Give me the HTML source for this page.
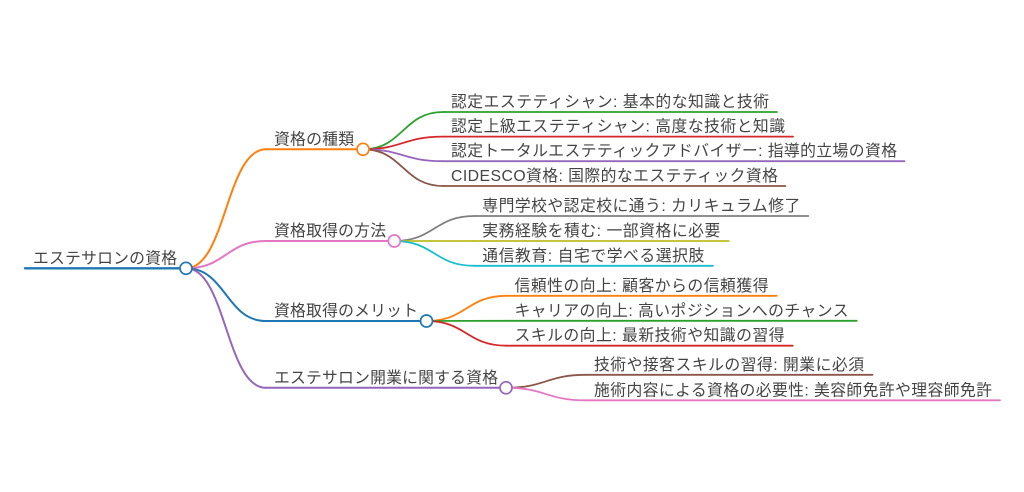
<!DOCTYPE html>
<html>
<head>
<meta charset="utf-8">
<style>
  html, body { margin: 0; padding: 0; background: #ffffff; }
  body { width: 1024px; height: 492px; overflow: hidden; }
  svg { display: block; }
  text { font-family: "Liberation Sans", "Noto Sans CJK JP", sans-serif; font-size: 15.8px; fill: #444; }
</style>
</head>
<body>
<svg width="1024" height="492" viewBox="0 0 1024 492" xmlns="http://www.w3.org/2000/svg">
  <g fill="none" stroke-linecap="round">
    <!-- root -> branches links -->
    <path d="M186,268.3 C226,268.3 226,149.3 266,149.3" stroke="#ff7f0e" stroke-width="2"/>
    <path d="M186,268.3 C226,268.3 226,241 266,241" stroke="#e377c2" stroke-width="2"/>
    <path d="M186,268.3 C226,268.3 226,321 266,321" stroke="#1f77b4" stroke-width="2"/>
    <path d="M186,268.3 C226,268.3 226,387.8 266,387.8" stroke="#9467bd" stroke-width="2"/>

    <!-- branch 1 -> leaves -->
    <path d="M363,149.3 C403,149.3 403,112 443,112" stroke="#2ca02c" stroke-width="1.8"/>
    <path d="M363,149.3 C403,149.3 403,136.6 443,136.6" stroke="#d62728" stroke-width="1.8"/>
    <path d="M363,149.3 C403,149.3 403,161.2 443,161.2" stroke="#9467bd" stroke-width="1.8"/>
    <path d="M363,149.3 C403,149.3 403,186 443,186" stroke="#8c564b" stroke-width="1.8"/>

    <!-- branch 2 -> leaves -->
    <path d="M394.3,241 C434.3,241 434.3,216 474.3,216" stroke="#7f7f7f" stroke-width="1.8"/>
    <path d="M394.3,241 C434.3,241 434.3,241 474.3,241" stroke="#bcbd22" stroke-width="1.8"/>
    <path d="M394.3,241 C434.3,241 434.3,265.8 474.3,265.8" stroke="#17becf" stroke-width="1.8"/>

    <!-- branch 3 -> leaves -->
    <path d="M426.5,321 C466.5,321 466.5,295.8 506.5,295.8" stroke="#ff7f0e" stroke-width="1.8"/>
    <path d="M426.5,321 C466.5,321 466.5,320.8 506.5,320.8" stroke="#2ca02c" stroke-width="1.8"/>
    <path d="M426.5,321 C466.5,321 466.5,345.7 506.5,345.7" stroke="#d62728" stroke-width="1.8"/>

    <!-- branch 4 -> leaves -->
    <path d="M506,387.8 C546,387.8 546,374.8 586,374.8" stroke="#8c564b" stroke-width="1.8"/>
    <path d="M506,387.8 C546,387.8 546,400.3 586,400.3" stroke="#e377c2" stroke-width="1.8"/>

    <!-- node underlines -->
    <line x1="25" y1="268.3" x2="186" y2="268.3" stroke="#1f77b4" stroke-width="2.3"/>

    <line x1="266" y1="149.3" x2="363" y2="149.3" stroke="#ff7f0e" stroke-width="2"/>
    <line x1="266" y1="241" x2="394.3" y2="241" stroke="#e377c2" stroke-width="2"/>
    <line x1="266" y1="321" x2="426.5" y2="321" stroke="#1f77b4" stroke-width="2"/>
    <line x1="266" y1="387.8" x2="506" y2="387.8" stroke="#9467bd" stroke-width="2"/>

    <line x1="443" y1="112" x2="777" y2="112" stroke="#2ca02c" stroke-width="1.8"/>
    <line x1="443" y1="136.6" x2="793" y2="136.6" stroke="#d62728" stroke-width="1.8"/>
    <line x1="443" y1="161.2" x2="904.5" y2="161.2" stroke="#9467bd" stroke-width="1.8"/>
    <line x1="443" y1="186" x2="785.5" y2="186" stroke="#8c564b" stroke-width="1.8"/>

    <line x1="474.3" y1="216" x2="808.3" y2="216" stroke="#7f7f7f" stroke-width="1.8"/>
    <line x1="474.3" y1="241" x2="728.8" y2="241" stroke="#bcbd22" stroke-width="1.8"/>
    <line x1="474.3" y1="265.8" x2="713" y2="265.8" stroke="#17becf" stroke-width="1.8"/>

    <line x1="506.5" y1="295.8" x2="776.7" y2="295.8" stroke="#ff7f0e" stroke-width="1.8"/>
    <line x1="506.5" y1="320.8" x2="856.7" y2="320.8" stroke="#2ca02c" stroke-width="1.8"/>
    <line x1="506.5" y1="345.7" x2="792.7" y2="345.7" stroke="#d62728" stroke-width="1.8"/>

    <line x1="586" y1="374.8" x2="872.5" y2="374.8" stroke="#8c564b" stroke-width="1.8"/>
    <line x1="586" y1="400.3" x2="1000" y2="400.3" stroke="#e377c2" stroke-width="1.8"/>

    <!-- circles -->
    <circle cx="186" cy="268.3" r="6" fill="#fff" stroke="#1f77b4" stroke-width="1.7"/>
    <circle cx="363" cy="149.3" r="6" fill="#fff" stroke="#ff7f0e" stroke-width="1.7"/>
    <circle cx="394.3" cy="241" r="6" fill="#fff" stroke="#e377c2" stroke-width="1.7"/>
    <circle cx="426.5" cy="321" r="6" fill="#fff" stroke="#1f77b4" stroke-width="1.7"/>
    <circle cx="506" cy="387.8" r="6" fill="#fff" stroke="#9467bd" stroke-width="1.7"/>
  </g>

  <!-- labels -->
  <text x="33" y="263.3" textLength="144" lengthAdjust="spacing">エステサロンの資格</text>

  <text x="274" y="144.3" textLength="80" lengthAdjust="spacing">資格の種類</text>
  <text x="274" y="236" textLength="112" lengthAdjust="spacing">資格取得の方法</text>
  <text x="274" y="316" textLength="144" lengthAdjust="spacing">資格取得のメリット</text>
  <text x="274" y="382.8" textLength="224" lengthAdjust="spacing">エステサロン開業に関する資格</text>

  <text x="451" y="107" textLength="318" lengthAdjust="spacing">認定エステティシャン: 基本的な知識と技術</text>
  <text x="451" y="131.6" textLength="334" lengthAdjust="spacing">認定上級エステティシャン: 高度な技術と知識</text>
  <text x="451" y="156.2" textLength="446" lengthAdjust="spacing">認定トータルエステティックアドバイザー: 指導的立場の資格</text>
  <text x="451" y="181" textLength="326.9" lengthAdjust="spacing">CIDESCO資格: 国際的なエステティック資格</text>

  <text x="482.3" y="211" textLength="318" lengthAdjust="spacing">専門学校や認定校に通う: カリキュラム修了</text>
  <text x="482.3" y="236" textLength="238" lengthAdjust="spacing">実務経験を積む: 一部資格に必要</text>
  <text x="482.3" y="260.8" textLength="222" lengthAdjust="spacing">通信教育: 自宅で学べる選択肢</text>

  <text x="514.5" y="290.8" textLength="254" lengthAdjust="spacing">信頼性の向上: 顧客からの信頼獲得</text>
  <text x="514.5" y="315.8" textLength="334" lengthAdjust="spacing">キャリアの向上: 高いポジションへのチャンス</text>
  <text x="514.5" y="340.7" textLength="270" lengthAdjust="spacing">スキルの向上: 最新技術や知識の習得</text>

  <text x="594" y="369.8" textLength="270" lengthAdjust="spacing">技術や接客スキルの習得: 開業に必須</text>
  <text x="594" y="395.3" textLength="398" lengthAdjust="spacing">施術内容による資格の必要性: 美容師免許や理容師免許</text>
</svg>
</body>
</html>
